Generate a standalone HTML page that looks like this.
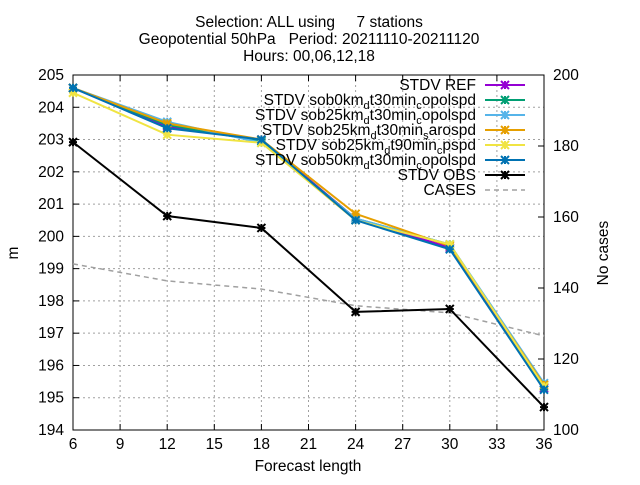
<!DOCTYPE html>
<html><head><meta charset="utf-8"><style>
body{margin:0;background:#fff}
svg text{font-family:"Liberation Sans",sans-serif;fill:#000}
</style></head><body>
<svg id="c" width="640" height="480" xmlns="http://www.w3.org/2000/svg">
<g id="grid"></g>
<g id="axes"></g>
<g id="series"></g>
<g id="legend"></g>
<text x="309" y="27" text-anchor="middle" font-size="15.5" xml:space="preserve">Selection: ALL using     7 stations</text>
<text x="309" y="44" text-anchor="middle" font-size="15.5" xml:space="preserve">Geopotential 50hPa   Period: 20211110-20211120</text>
<text x="309" y="61" text-anchor="middle" font-size="15.5">Hours: 00,06,12,18</text>
<text x="308" y="471" text-anchor="middle" font-size="15.5">Forecast length</text>
<text transform="translate(18,253) rotate(-90)" text-anchor="middle" font-size="15.5">m</text>
<text transform="translate(608,253) rotate(-90)" text-anchor="middle" font-size="15.5">No cases</text>
</svg>
<script>
const xVals=[6,12,18,24,30,36];
const xTicks=[6,9,12,15,18,21,24,27,30,33,36];
const yTicks=[194,195,196,197,198,199,200,201,202,203,204,205];
const y2Ticks=[100,120,140,160,180,200];
const seriesNames=["STDV REF","STDV sob0km_d t30min_c opolspd","STDV sob25km_d t30min_c opolspd","STDV sob25km_d t30min_s arospd","STDV sob25km_d t90min_c pspd","STDV sob50km_d t30min_c opolspd","STDV OBS"];
const seriesColors=["#9400d3","#009e73","#56b4e9","#e69f00","#f0e442","#0072b2","#000000"];
const ref=[204.6,203.4,203.0,200.55,199.65,195.3];
const s0=[204.6,203.45,202.95,200.55,199.75,195.35];
const s25=[204.6,203.55,202.9,200.55,199.75,195.45];
const s25s=[204.6,203.5,203.0,200.7,199.7,195.4];
const s25t90=[204.45,203.15,202.9,200.5,199.75,195.35];
const s50=[204.6,203.35,203.0,200.5,199.6,195.25];
const obs=[202.92,200.63,200.26,197.66,197.75,194.71];
const cases=[146.8,142,139.7,135,133,126.5];
const L=73,R=544,T=75,B=430;
const X=v=>L+(v-6)/30*(R-L), Y=v=>T+(205-v)/11*(B-T), Y2=v=>T+(200-v)/100*(B-T);
const NS="http://www.w3.org/2000/svg";
function mk(t,a,p){const e=document.createElementNS(NS,t);for(const k in a)e.setAttribute(k,a[k]);p.appendChild(e);return e;}
const grid=document.getElementById('grid'),axes=document.getElementById('axes'),ser=document.getElementById('series'),leg=document.getElementById('legend');
xTicks.forEach(v=>{const x=X(v);
 if(v>6&&v<36){const g=mk('line',{x1:x,x2:x,y1:T,y2:B,stroke:'#a0a0a0','stroke-dasharray':'2,3'},grid);}
 mk('line',{x1:x,x2:x,y1:B,y2:B-6,stroke:'#000'},axes);mk('line',{x1:x,x2:x,y1:T,y2:T+6,stroke:'#000'},axes);
 const t=mk('text',{x:x,y:B+19,'text-anchor':'middle','font-size':15.5},axes);t.textContent=v;
 });
yTicks.forEach(v=>{const y=Y(v);
 if(v>194&&v<205){const g=mk('line',{x1:L,x2:R,y1:y,y2:y,stroke:'#a0a0a0','stroke-dasharray':'2,3'},grid);}
 mk('line',{x1:L,x2:L+6,y1:y,y2:y,stroke:'#000'},axes);
 const t=mk('text',{x:L-9,y:y+5,'text-anchor':'end','font-size':15.5},axes);t.textContent=v;
 });
y2Ticks.forEach(v=>{const y=Y2(v);
 mk('line',{x1:R,x2:R-6,y1:y,y2:y,stroke:'#000'},axes);
 const t=mk('text',{x:R+9,y:y+5,'font-size':15.5},axes);t.textContent=v;
 });
const fr=mk('rect',{x:L,y:T,width:R-L,height:B-T,fill:'none',stroke:'#000'},axes);

const cp=mk('polyline',{points:xVals.map((x,i)=>X(x)+','+Y2(cases[i])).join(' '),fill:'none',stroke:'#a0a0a0','stroke-width':1.5,'stroke-dasharray':'5,4'},ser);

function star(x,y,c,p){const s=4;mk('path',{d:`M${x-s},${y}H${x+s}M${x},${y-s}V${y+s}M${x-s},${y-s}L${x+s},${y+s}M${x-s},${y+s}L${x+s},${y-s}`,stroke:c,'stroke-width':2},p);}
const all=[ref,s0,s25,s25s,s25t90,s50,obs];
all.forEach((d,k)=>{const g=mk('g',{},ser);
 
 mk('polyline',{points:xVals.map((x,i)=>X(x)+','+Y(d[i])).join(' '),fill:'none',stroke:seriesColors[k],'stroke-width':2},g);
 xVals.forEach((x,i)=>star(X(x),Y(d[i]),seriesColors[k],g));});
const rows=seriesNames.concat(["CASES"]);
rows.forEach((n,k)=>{const y=85+k*15;const g=mk('g',{},leg);
 
 const t=mk('text',{x:476,y:y+5,'text-anchor':'end','font-size':15.5},g);
 const parts=n.split(' ');
 if(parts.length>3){const f=mk('tspan',{},t);f.textContent=parts[0]+' ';
  let off=0;
  for(let j=1;j<parts.length;j++){const m=parts[j].split('_');
   const a=mk('tspan',{dy:-off},t);a.textContent=m[0];off=0;
   if(m[1]){const b=mk('tspan',{dy:4,'font-size':11},t);b.textContent=m[1];off=4;}}}
 else t.textContent=n;
 if(k<7){mk('line',{x1:485,x2:525,y1:y,y2:y,stroke:seriesColors[k],'stroke-width':2},g);star(505,y,seriesColors[k],g);}
 else mk('line',{x1:485,x2:525,y1:y,y2:y,stroke:'#a0a0a0','stroke-width':1.5,'stroke-dasharray':'5,4'},g);});
</script>
</body></html>
